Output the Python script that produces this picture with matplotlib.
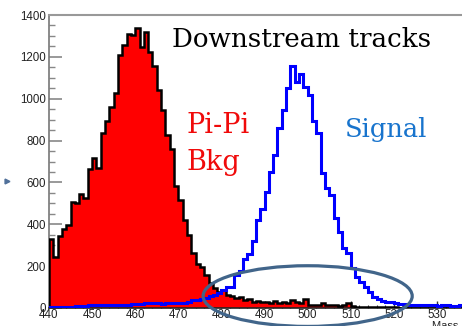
import numpy as np
import matplotlib
matplotlib.use("Agg")
import matplotlib.pyplot as plt
from matplotlib.patches import Ellipse
from matplotlib.lines import Line2D
from matplotlib.ticker import MultipleLocator

# Invariant mass histograms, 1 MeV bins from 440 to 536 MeV
bin_edges = np.arange(440, 537, 1)

pipi_bkg = [
    331, 242, 345, 379, 395, 507, 504, 544, 527, 663,      # 440-449
    717, 667, 835, 892, 962, 1026, 1207, 1257, 1308, 1304, # 450-459
    1336, 1249, 1317, 1222, 1158, 1042, 946, 826, 760, 585, # 460-469
    516, 420, 350, 262, 212, 196, 158, 118, 96, 78,        # 470-479
    88, 62, 58, 50, 54, 38, 42, 30, 35, 27,                # 480-489
    30, 24, 32, 22, 28, 24, 36, 30, 24, 42,                # 490-499
    12, 14, 16, 22, 14, 13, 12, 10, 14, 24,                # 500-509
    8, 6, 7, 5, 6, 4, 5, 3, 4, 3,                          # 510-519
    3, 2, 3, 2, 2, 1, 2, 1, 1, 2,                          # 520-529
    1, 1, 0, 1, 0, 1,                                      # 530-535
]

signal = [
    5, 5, 6, 6, 7, 6, 8, 9, 10, 12,                        # 440-449
    12, 13, 13, 14, 14, 15, 15, 16, 16, 17,                # 450-459
    18, 18, 22, 24, 22, 22, 20, 22, 24, 24,                # 460-469
    25, 26, 28, 38, 40, 42, 48, 55, 62, 70,                # 470-479
    85, 100, 102, 160, 175, 235, 260, 318, 420, 471,       # 480-489
    555, 651, 731, 862, 946, 1049, 1156, 1081, 1116, 1057, # 490-499
    1017, 893, 837, 643, 572, 540, 429, 365, 288, 261,     # 500-509
    189, 149, 126, 102, 78, 54, 41, 35, 30, 28,            # 510-519
    22, 20, 18, 15, 14, 16, 14, 12, 14, 12,                # 520-529
    10, 12, 14, 11, 10, 12,                                # 530-535
]

x_ticks = [440, 450, 460, 470, 480, 490, 500, 510, 520, 530]
y_ticks = [0, 200, 400, 600, 800, 1000, 1200, 1400]

W, H = 462, 326
fig = plt.figure(figsize=(W / 100, H / 100), dpi=100)
ax = fig.add_axes([49 / W, (H - 308) / H, (W - 49) / W, 293 / H])

# Background (filled red with black outline) and signal (blue line)
ax.stairs(pipi_bkg, bin_edges, fill=True, color="#ff0000", zorder=2)
ax.stairs(pipi_bkg, bin_edges, color="black", lw=1.8, zorder=3)
ax.stairs(signal, bin_edges, color="#0000ff", lw=2.2, zorder=4)

ax.set_xlim(440, 535.8)
ax.set_ylim(0, 1400)

ax.set_xticks(x_ticks)
ax.set_yticks(y_ticks)
ax.xaxis.set_minor_locator(MultipleLocator(2))
ax.yaxis.set_minor_locator(MultipleLocator(50))

label_font = dict(family=["Liberation Sans", "DejaVu Sans"], size=8.3)
ax.set_xticklabels([str(t) for t in x_ticks], **label_font, color="#222222")
ax.set_yticklabels([str(t) for t in y_ticks], **label_font, color="#222222")

ax.tick_params(axis="y", which="major", direction="in", length=9, width=1.2,
               color="#888888", pad=2)
ax.tick_params(axis="y", which="minor", direction="in", length=4.5, width=1.0,
               color="#888888")
ax.tick_params(axis="x", which="major", direction="in", length=5, width=1.0,
               color="#333333", pad=1)
ax.tick_params(axis="x", which="minor", direction="in", length=2.5, width=0.8,
               color="#333333")

for side in ("right",):
    ax.spines[side].set_visible(False)
ax.spines["top"].set_color("#999999")
ax.spines["top"].set_linewidth(1.5)
ax.spines["left"].set_color("#777777")
ax.spines["left"].set_linewidth(1.2)
ax.spines["bottom"].set_color("#222222")
ax.spines["bottom"].set_linewidth(1.2)
ax.patch.set_alpha(0)

# Region of interest around the signal peak
ring = Ellipse((500, 57), width=48.5, height=290, fill=False,
               edgecolor="#41658a", lw=2.3, transform=ax.transData,
               clip_on=False, zorder=6)
ax.add_patch(ring)

serif = ["DejaVu Serif"]
def ftext(px, py, s, **kw):
    fig.text(px / W, 1 - py / H, s, va="baseline", ha="left", **kw)

ftext(172, 47, "Downstream tracks", family=serif, size=18.8, color="black")
ftext(187, 133, "Pi-Pi", family=serif, size=19.5, color="#f00a0a")
ftext(187, 170, "Bkg", family=serif, size=19.5, color="#f00a0a")
ftext(345, 137, "Signal", family=serif, size=18.5, color="#1874cd")

# Axis title, partly beyond the lower edge
fig.text(432 / W, 1 - 321 / H, "Mass (MeV/c²)", va="top", ha="left",
         family=["Liberation Sans", "DejaVu Sans"], size=8, color="#222222")

# Small slide bullet on the left
fig.add_artist(Line2D([7 / W], [1 - 181 / H], marker=">", markersize=3.5,
                      color="#50709a", transform=fig.transFigure))

fig.savefig("out.png", dpi=100)
